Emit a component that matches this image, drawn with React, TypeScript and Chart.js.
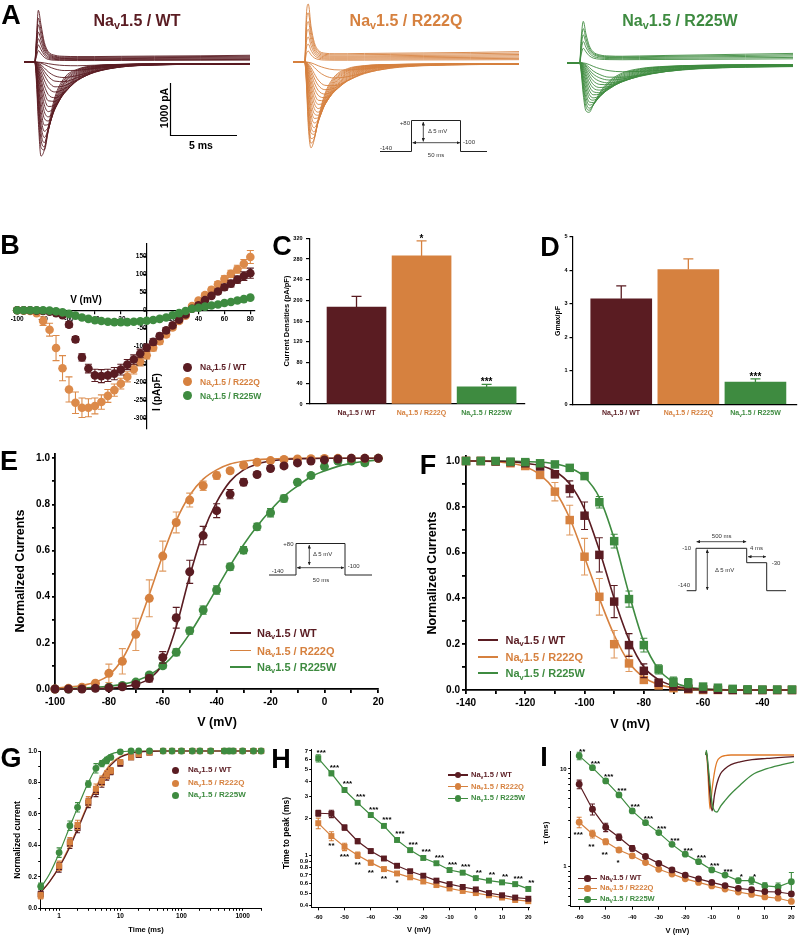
import React, { useEffect, useRef } from 'react';
import { Chart, registerables } from 'chart.js';

Chart.register(...registerables);

const FONT = "'Liberation Sans', Arial, Helvetica, sans-serif";
const WT = '#5a1c22';
const RQ = '#d6813f';
const RW = '#3e8b40';

// ---------------- Panel A : current traces (pA vs ms) ----------------
const A_T_WT = [-0.83, -0.02, 0.1, 0.25, 0.45, 0.7, 1.0, 1.5, 2.2, 3.2, 4.5, 6.5, 9, 12.5, 16.2];
const A_WT = [
  [0, 0, 450, 1000, 720, 380, 200, 130, 110, 105, 105, 110, 115, 120, 130],
  [0, 0, 380, 850, 620, 330, 175, 110, 95, 90, 90, 95, 100, 105, 112],
  [0, 0, 320, 720, 520, 280, 150, 95, 80, 75, 75, 80, 85, 90, 95],
  [0, 0, 260, 580, 420, 230, 125, 80, 68, 62, 62, 66, 70, 74, 78],
  [0, 0, 200, 450, 330, 180, 100, 65, 55, 50, 50, 52, 55, 58, 62],
  [0, 0, 150, 330, 240, 135, 75, 50, 42, 40, 40, 42, 44, 46, 50],
  [0, 0, 100, 220, 160, 90, 50, 35, 30, 28, 28, 30, 32, 34, 36],
  [0, 0, -350, -1150, -1820, -1700, -1250, -680, -310, -140, -70, -45, -35, -30, -28],
  [0, 0, -280, -1000, -1650, -1700, -1330, -740, -350, -155, -78, -48, -36, -31, -29],
  [0, 0, -220, -850, -1500, -1640, -1330, -790, -390, -170, -85, -50, -38, -32, -30],
  [0, 0, -180, -730, -1360, -1560, -1320, -830, -420, -190, -92, -52, -39, -33, -30],
  [0, 0, -150, -620, -1220, -1460, -1300, -860, -460, -210, -100, -55, -40, -34, -30],
  [0, 0, -120, -520, -1070, -1340, -1260, -890, -500, -230, -108, -58, -41, -35, -31],
  [0, 0, -100, -420, -920, -1220, -1210, -910, -530, -250, -115, -60, -42, -35, -32],
  [0, 0, -80, -340, -770, -1090, -1140, -910, -555, -270, -125, -62, -43, -35, -32],
  [0, 0, -60, -260, -620, -960, -1060, -900, -580, -290, -135, -65, -44, -36, -33],
  [0, 0, -45, -200, -510, -830, -960, -870, -600, -310, -148, -70, -46, -37, -33],
  [0, 0, -35, -160, -410, -700, -860, -830, -610, -330, -160, -75, -48, -38, -34],
  [0, 0, -28, -120, -330, -580, -750, -760, -600, -345, -175, -80, -50, -39, -34],
  [0, 0, -20, -85, -250, -460, -630, -690, -580, -360, -190, -85, -52, -40, -35],
  [0, 0, -15, -60, -180, -350, -500, -580, -520, -350, -195, -90, -53, -41, -35],
  [0, 0, -10, -40, -120, -250, -380, -480, -460, -340, -200, -95, -55, -42, -36],
  [0, 0, -7, -28, -85, -180, -280, -370, -380, -300, -190, -95, -56, -43, -37],
  [0, 0, -5, -18, -55, -115, -190, -270, -300, -260, -175, -95, -58, -44, -38],
  [0, 0, -2, -8, -22, -48, -85, -135, -165, -160, -125, -80, -55, -44, -38],
  [0, 0, 0, -3, -8, -18, -32, -52, -68, -72, -62, -48, -40, -36, -34],
];
const A_T_RQ = [-0.91, -0.02, 0.1, 0.25, 0.45, 0.7, 1.0, 1.5, 2.2, 3.2, 4.5, 6.5, 9, 12.5, 16.2];
const A_RQ = [
  [0, 0, 900, 1120, 700, 380, 230, 170, 160, 160, 165, 170, 175, 185, 200],
  [0, 0, 760, 950, 600, 330, 200, 148, 138, 138, 142, 146, 152, 160, 172],
  [0, 0, 620, 780, 500, 280, 170, 125, 115, 115, 118, 122, 128, 135, 145],
  [0, 0, 500, 630, 410, 230, 140, 102, 95, 95, 98, 101, 106, 112, 120],
  [0, 0, 380, 480, 320, 180, 110, 80, 75, 75, 78, 80, 84, 88, 95],
  [0, 0, 270, 345, 230, 130, 80, 60, 55, 55, 57, 59, 62, 65, 70],
  [0, 0, 160, 210, 140, 80, 50, 38, 35, 35, 36, 38, 40, 42, 45],
  [0, 0, -400, -1250, -1660, -1500, -1100, -620, -290, -130, -70, -48, -40, -35, -32],
  [0, 0, -350, -1120, -1570, -1480, -1130, -660, -320, -145, -75, -50, -41, -36, -33],
  [0, 0, -300, -1000, -1480, -1450, -1150, -700, -350, -160, -80, -52, -42, -36, -33],
  [0, 0, -250, -880, -1370, -1400, -1160, -740, -380, -175, -88, -55, -44, -37, -34],
  [0, 0, -200, -760, -1250, -1350, -1160, -770, -410, -190, -95, -58, -45, -38, -34],
  [0, 0, -165, -650, -1130, -1270, -1140, -800, -440, -210, -102, -60, -46, -38, -35],
  [0, 0, -130, -540, -1000, -1180, -1120, -820, -470, -225, -110, -62, -47, -39, -35],
  [0, 0, -105, -450, -880, -1090, -1080, -830, -495, -245, -120, -65, -48, -40, -36],
  [0, 0, -85, -370, -760, -1000, -1030, -830, -520, -265, -130, -68, -49, -40, -36],
  [0, 0, -65, -300, -650, -900, -970, -820, -540, -285, -140, -72, -51, -41, -37],
  [0, 0, -50, -240, -540, -800, -900, -810, -560, -305, -150, -75, -52, -42, -37],
  [0, 0, -38, -190, -450, -700, -820, -780, -570, -325, -162, -80, -54, -43, -38],
  [0, 0, -28, -140, -360, -600, -740, -750, -580, -345, -175, -85, -55, -43, -38],
  [0, 0, -20, -105, -285, -500, -645, -690, -570, -360, -190, -92, -58, -44, -39],
  [0, 0, -15, -75, -210, -400, -550, -620, -550, -370, -205, -98, -60, -45, -39],
  [0, 0, -10, -52, -155, -310, -450, -535, -505, -365, -215, -106, -63, -47, -40],
  [0, 0, -7, -35, -105, -225, -350, -450, -460, -360, -225, -115, -66, -48, -40],
  [0, 0, -3, -14, -45, -105, -180, -265, -310, -285, -210, -120, -72, -51, -42],
  [0, 0, 0, -5, -16, -40, -72, -115, -150, -155, -130, -90, -65, -50, -43],
];
const A_T_RW = [-0.98, -0.02, 0.1, 0.25, 0.45, 0.7, 1.0, 1.5, 2.2, 3.2, 4.5, 6.5, 9, 12.5, 16.1];
const A_RW = [
  [0, 0, 500, 800, 560, 330, 210, 150, 130, 125, 130, 140, 150, 165, 180],
  [0, 0, 410, 660, 470, 285, 185, 132, 115, 112, 115, 123, 131, 142, 155],
  [0, 0, 330, 540, 390, 240, 160, 115, 100, 98, 100, 106, 112, 120, 130],
  [0, 0, 250, 410, 300, 190, 125, 92, 80, 78, 80, 85, 89, 95, 102],
  [0, 0, 170, 280, 210, 135, 90, 68, 60, 58, 60, 63, 66, 70, 75],
  [0, 0, -200, -620, -930, -960, -820, -580, -360, -200, -115, -70, -50, -40, -36],
  [0, 0, -165, -535, -845, -920, -820, -610, -390, -222, -128, -75, -52, -41, -37],
  [0, 0, -130, -450, -760, -880, -820, -640, -420, -245, -140, -80, -55, -43, -38],
  [0, 0, -105, -380, -670, -820, -795, -650, -445, -268, -155, -88, -58, -45, -40],
  [0, 0, -80, -310, -580, -760, -770, -660, -470, -290, -170, -95, -62, -47, -41],
  [0, 0, -62, -250, -495, -685, -725, -650, -485, -310, -185, -102, -66, -50, -43],
  [0, 0, -45, -190, -410, -610, -680, -640, -500, -330, -200, -110, -70, -52, -45],
  [0, 0, -35, -150, -340, -530, -620, -610, -510, -345, -215, -120, -75, -55, -48],
  [0, 0, -25, -110, -270, -450, -560, -580, -500, -360, -230, -130, -80, -58, -50],
  [0, 0, -18, -84, -215, -375, -490, -530, -480, -365, -242, -140, -86, -62, -53],
  [0, 0, -12, -58, -160, -300, -420, -480, -460, -370, -255, -150, -92, -66, -56],
  [0, 0, -9, -42, -122, -240, -350, -420, -425, -360, -260, -160, -99, -70, -59],
  [0, 0, -6, -28, -85, -180, -280, -360, -390, -350, -265, -170, -106, -75, -62],
  [0, 0, -4, -20, -60, -135, -220, -295, -335, -315, -252, -170, -112, -80, -66],
  [0, 0, -2, -12, -38, -90, -160, -230, -280, -280, -240, -170, -118, -85, -70],
  [0, 0, 0, -4, -14, -36, -70, -115, -155, -175, -170, -140, -110, -88, -75],
];

// ---------------- Panel B : I-V (pA/pF) ----------------
const V_B = [-100, -95, -90, -85, -80, -75, -70, -65, -60, -55, -50, -45, -40, -35, -30, -25, -20, -15, -10, -5, 0, 5, 10, 15, 20, 25, 30, 35, 40, 45, 50, 55, 60, 65, 70, 75, 80];
const B_WT = [0, 0, 0, -1, -2, -4, -8, -14, -40, -81, -131, -162, -181, -183, -181, -176, -165, -151, -137, -120, -104, -88, -72, -56, -42, -26, -12, 4, 14, 28, 40, 52, 64, 74, 85, 95, 103];
const B_WT_E = [0, 0, 0, 0, 0, 0, 2, 4, 8, 8, 10, 12, 17, 18, 17, 17, 15, 14, 13, 12, 10, 9, 8, 7, 6, 5, 4, 4, 5, 5, 6, 7, 8, 9, 10, 12, 14];
const B_RQ = [0, -1, -2, -8, -30, -54, -105, -161, -220, -257, -271, -271, -266, -255, -238, -222, -204, -185, -164, -143, -125, -104, -86, -67, -48, -30, -15, 12, 27, 42, 57, 72, 87, 101, 114, 129, 148];
const B_RQ_E = [0, 0, 0, 2, 12, 18, 35, 35, 35, 30, 27, 25, 22, 20, 18, 17, 15, 14, 13, 12, 10, 9, 8, 7, 6, 5, 4, 4, 5, 6, 7, 8, 9, 10, 11, 12, 18];
const B_RW = [0, 0, 0, 0, 0, -1, -3, -6, -10, -15, -20, -24, -28, -30, -32, -33, -33, -33, -32, -31, -29, -27, -24, -20, -14, -8, -2, 4, 7, 10, 13, 16, 20, 23, 27, 31, 35];
const B_XTICKS = [-100, -80, -60, -40, -20, 0, 20, 40, 60, 80];
const B_YTICKS = [-300, -250, -200, -150, -100, -50, 0, 50, 100, 150];

// ---------------- Panels C, D : bars ----------------
const CD_POS = [1, 2, 3];
const CD_GROUPS = ['WT', 'R222Q', 'R225W'];
const C_VAL = [187, 286, 33];
const C_ERR = [21, 29, 5];
const C_STARS = ['', '*', '***'];
const C_YTICKS = [0, 40, 80, 120, 160, 200, 240, 280, 320];
const D_VAL = [3.15, 4.02, 0.66];
const D_ERR = [0.38, 0.32, 0.1];
const D_STARS = ['', '', '***'];
const D_YTICKS = [0, 1, 2, 3, 4, 5];

// ---------------- Panel E : activation ----------------
const V_E = [-100, -95, -90, -85, -80, -75, -70, -65, -60, -55, -50, -45, -40, -35, -30, -25, -20, -15, -10, -5, 0, 5, 10, 15, 20];
const E_WT = [0, 0, 0, 0.003, 0.005, 0.01, 0.02, 0.046, 0.137, 0.309, 0.508, 0.665, 0.773, 0.845, 0.896, 0.93, 0.956, 0.967, 0.98, 0.988, 0.993, 0.997, 1, 1, 1];
const E_WT_E = [0, 0, 0, 0, 0, 0.005, 0.01, 0.015, 0.025, 0.045, 0.05, 0.04, 0.03, 0.02, 0.015, 0.01, 0.01, 0.01, 0.008, 0.006, 0.005, 0.004, 0.003, 0.003, 0];
const E_RQ = [0, 0.003, 0.008, 0.025, 0.068, 0.12, 0.237, 0.393, 0.576, 0.722, 0.819, 0.881, 0.925, 0.946, 0.97, 0.983, 0.99, 0.995, 0.997, 0.998, 0.999, 1, 1, 1, 1];
const E_RQ_E = [0, 0.003, 0.005, 0.01, 0.04, 0.055, 0.07, 0.08, 0.065, 0.045, 0.03, 0.02, 0.015, 0.01, 0.008, 0.006, 0.005, 0.004, 0.003, 0.003, 0.002, 0.002, 0, 0, 0];
const E_RW = [0, 0, 0.002, 0.005, 0.008, 0.015, 0.03, 0.061, 0.101, 0.159, 0.253, 0.342, 0.429, 0.53, 0.602, 0.703, 0.764, 0.826, 0.896, 0.925, 0.964, 0.988, 0.988, 0.981, 1];
const E_RW_E = [0, 0, 0, 0, 0.004, 0.006, 0.008, 0.01, 0.012, 0.015, 0.015, 0.018, 0.018, 0.015, 0.015, 0.015, 0.018, 0.015, 0.012, 0.012, 0.012, 0.01, 0.01, 0.012, 0.01];
const E_WT_FIT = [0, 0.0005, 0.001, 0.002, 0.004, 0.009, 0.02, 0.045, 0.11, 0.27, 0.49, 0.68, 0.81, 0.9, 0.95, 0.975, 0.988, 0.995, 0.998, 0.999, 1, 1, 1, 1, 1];
const E_RQ_FIT = [0.004, 0.008, 0.015, 0.03, 0.06, 0.13, 0.25, 0.41, 0.58, 0.73, 0.84, 0.91, 0.95, 0.975, 0.987, 0.994, 0.997, 0.999, 1, 1, 1, 1, 1, 1, 1];
const E_RW_FIT = [0, 0.002, 0.004, 0.007, 0.012, 0.02, 0.035, 0.06, 0.1, 0.16, 0.24, 0.335, 0.435, 0.535, 0.625, 0.705, 0.775, 0.835, 0.88, 0.92, 0.945, 0.965, 0.978, 0.987, 0.993];
const E_XTICKS = [-100, -90, -80, -70, -60, -50, -40, -30, -20, -10, 0, 10, 20];
const NORM_TICKS = [0, 0.1, 0.2, 0.3, 0.4, 0.5, 0.6, 0.7, 0.8, 0.9, 1.0];

// ---------------- Panel F : inactivation ----------------
const V_F = [-140, -135, -130, -125, -120, -115, -110, -105, -100, -95, -90, -85, -80, -75, -70, -65, -60, -55, -50, -45, -40, -35, -30];
const F_WT = [1, 1, 0.998, 0.995, 0.99, 0.976, 0.942, 0.878, 0.761, 0.59, 0.386, 0.196, 0.084, 0.032, 0.015, 0.006, 0.003, 0.001, 0, 0, 0, 0, 0];
const F_WT_E = [0, 0, 0, 0.003, 0.005, 0.01, 0.015, 0.035, 0.06, 0.075, 0.07, 0.05, 0.03, 0.015, 0.008, 0.005, 0, 0, 0, 0, 0, 0, 0];
const F_RQ = [1, 1, 0.998, 0.99, 0.978, 0.939, 0.866, 0.742, 0.582, 0.407, 0.2, 0.116, 0.044, 0.02, 0.008, 0.003, 0, 0, 0, 0, 0, 0, 0];
const F_RQ_E = [0, 0, 0, 0.005, 0.01, 0.015, 0.04, 0.065, 0.08, 0.08, 0.06, 0.035, 0.015, 0.008, 0.005, 0.003, 0, 0, 0, 0, 0, 0, 0];
const F_RW = [1, 1, 1, 0.997, 0.995, 0.99, 0.985, 0.97, 0.934, 0.82, 0.65, 0.397, 0.196, 0.09, 0.036, 0.03, 0.015, 0.01, 0.005, 0.003, 0.002, 0.002, 0.002];
const F_RW_E = [0, 0, 0, 0, 0, 0, 0.005, 0.008, 0.01, 0.025, 0.03, 0.035, 0.03, 0.02, 0.02, 0.02, 0.01, 0.008, 0, 0, 0, 0, 0];
const F_WT_FIT = [1, 1, 0.999, 0.997, 0.99, 0.98, 0.955, 0.9, 0.79, 0.61, 0.4, 0.22, 0.1, 0.045, 0.018, 0.007, 0.003, 0.001, 0, 0, 0, 0, 0];
const F_RQ_FIT = [1, 0.999, 0.997, 0.99, 0.975, 0.94, 0.87, 0.75, 0.58, 0.4, 0.24, 0.12, 0.055, 0.024, 0.01, 0.004, 0.001, 0, 0, 0, 0, 0, 0];
const F_RW_FIT = [1, 1, 1, 0.999, 0.998, 0.995, 0.988, 0.97, 0.93, 0.84, 0.66, 0.42, 0.21, 0.09, 0.035, 0.013, 0.005, 0.002, 0.001, 0, 0, 0, 0];
const F_XTICKS = [-140, -130, -120, -110, -100, -90, -80, -70, -60, -50, -40, -30];

// ---------------- Panel G : recovery ----------------
const T_G = [0.5, 1, 1.5, 2, 3, 4, 5, 6, 7, 10, 15, 20, 30, 50, 70, 100, 150, 200, 300, 500, 600, 700, 1000, 1500, 2000];
const G_WT = [0.09, 0.26, 0.41, 0.51, 0.67, 0.74, 0.8, 0.84, 0.87, 0.92, 0.96, 0.975, 0.99, 1, 1, 1, 1, 1, 1, 1, 1, 1, 1, 1, 1];
const G_WT_E = [0.02, 0.03, 0.03, 0.03, 0.03, 0.03, 0.03, 0.025, 0.02, 0.015, 0.01, 0.008, 0.005, 0, 0, 0, 0, 0, 0, 0, 0, 0, 0, 0, 0];
const G_RQ = [0.08, 0.27, 0.42, 0.53, 0.68, 0.76, 0.81, 0.85, 0.875, 0.93, 0.96, 0.98, 0.99, 1, 1, 1, 1, 1, 1, 1, 1, 1, 1, 1, 1];
const G_RQ_E = [0.02, 0.03, 0.03, 0.03, 0.03, 0.03, 0.03, 0.025, 0.02, 0.015, 0.01, 0.008, 0.005, 0, 0, 0, 0, 0, 0, 0, 0, 0, 0, 0, 0];
const G_RW = [0.14, 0.354, 0.525, 0.642, 0.79, 0.89, 0.92, 0.94, 0.96, 0.995, 1, 1, 1, 1, 1, 1, 1, 1, 1, 1, 1, 1, 1, 1, 1];
const G_RW_E = [0.02, 0.03, 0.03, 0.03, 0.02, 0.03, 0.02, 0.02, 0.015, 0.005, 0, 0, 0, 0, 0, 0, 0, 0, 0, 0, 0, 0, 0, 0, 0];
const T_GFIT = [0.5, 0.7, 1, 1.5, 2, 3, 4, 5, 7, 10, 15, 20, 30, 50, 100, 2000];
const G_WT_FIT = [0.1, 0.17, 0.26, 0.39, 0.5, 0.66, 0.76, 0.83, 0.91, 0.96, 0.985, 0.993, 0.998, 1, 1, 1];
const G_RQ_FIT = [0.1, 0.17, 0.265, 0.4, 0.51, 0.67, 0.77, 0.84, 0.92, 0.965, 0.988, 0.995, 0.999, 1, 1, 1];
const G_RW_FIT = [0.13, 0.22, 0.35, 0.52, 0.64, 0.8, 0.89, 0.94, 0.98, 0.995, 0.999, 1, 1, 1, 1, 1];
const G_XTICKS = [0.5, 0.6, 0.7, 0.8, 0.9, 1, 2, 3, 4, 5, 6, 7, 8, 9, 10, 20, 30, 40, 50, 60, 70, 80, 90, 100, 200, 300, 400, 500, 600, 700, 800, 900, 1000, 2000];
const G_XLABELS = [1, 10, 100, 1000];

// ---------------- Panel H : time to peak ----------------
const V_H = [-60, -55, -50, -45, -40, -35, -30, -25, -20, -15, -10, -5, 0, 5, 10, 15, 20];
const H_WT = [2.2, 2.18, 1.69, 1.31, 1.09, 0.95, 0.83, 0.75, 0.69, 0.63, 0.59, 0.56, 0.535, 0.5, 0.48, 0.46, 0.45];
const H_WT_E = [0.12, 0.15, 0.08, 0.06, 0.04, 0.03, 0.02, 0.02, 0.02, 0.02, 0.02, 0.015, 0.015, 0.015, 0.015, 0.015, 0.015];
const H_RQ = [1.83, 1.44, 1.18, 1.01, 0.88, 0.78, 0.72, 0.67, 0.62, 0.58, 0.545, 0.52, 0.5, 0.48, 0.46, 0.44, 0.43];
const H_RQ_E = [0.18, 0.12, 0.08, 0.06, 0.04, 0.03, 0.02, 0.02, 0.02, 0.02, 0.015, 0.015, 0.015, 0.015, 0.015, 0.015, 0.015];
const H_RW = [6.1, 4.62, 3.39, 2.67, 2.13, 1.74, 1.34, 1.11, 0.96, 0.87, 0.767, 0.73, 0.66, 0.63, 0.61, 0.59, 0.54];
const H_RW_E = [0.4, 0.2, 0.12, 0.08, 0.06, 0.05, 0.04, 0.03, 0.03, 0.02, 0.02, 0.02, 0.02, 0.02, 0.02, 0.02, 0.02];
const H_RW_STARS = ['***', '***', '***', '***', '***', '***', '***', '***', '***', '***', '***', '***', '**', '**', '**', '***', '**'];
const H_RQ_STARS = ['', '**', '***', '**', '**', '**', '*', '', '', '', '', '', '', '', '', '', ''];
const HI_XTICKS = [-60, -50, -40, -30, -20, -10, 0, 10, 20];
const H_YTICKS = [0.4, 0.5, 0.6, 0.7, 0.8, 0.9, 1, 2, 3, 4, 5, 6, 7];

// ---------------- Panel I : inactivation tau ----------------
const V_I = [-60, -55, -50, -45, -40, -35, -30, -25, -20, -15, -10, -5, 0, 5, 10, 15, 20];
const I_WT = [6.97, 3.87, 2.53, 2.0, 1.54, 1.27, 1.08, 0.925, 0.82, 0.75, 0.69, 0.64, 0.6, 0.58, 0.555, 0.55, 0.525];
const I_WT_E = [0.7, 0.5, 0.25, 0.15, 0.1, 0.06, 0.05, 0.04, 0.03, 0.03, 0.02, 0.02, 0.02, 0.02, 0.02, 0.02, 0.02];
const I_RQ = [2.85, 2.16, 1.8, 1.48, 1.29, 1.1, 0.94, 0.84, 0.75, 0.69, 0.635, 0.59, 0.55, 0.52, 0.49, 0.475, 0.44];
const I_RQ_E = [0.35, 0.2, 0.12, 0.08, 0.06, 0.04, 0.03, 0.03, 0.02, 0.02, 0.02, 0.02, 0.02, 0.02, 0.02, 0.02, 0.02];
const I_RW = [13.6, 10.3, 7.53, 5.42, 3.72, 2.82, 2.23, 1.69, 1.34, 1.125, 0.925, 0.82, 0.72, 0.72, 0.635, 0.62, 0.7];
const I_RW_E = [1.2, 0.5, 0.35, 0.25, 0.18, 0.1, 0.08, 0.06, 0.05, 0.04, 0.03, 0.03, 0.04, 0.06, 0.05, 0.06, 0.17];
const I_RW_STARS = ['**', '***', '***', '***', '***', '***', '***', '***', '***', '***', '***', '***', '*', '*', '', '', ''];
const I_RQ_STARS = ['***', '**', '**', '*', '', '', '', '', '', '', '', '', '', '', '', '', ''];
const I_YTICKS = [0.4, 0.5, 0.6, 0.7, 0.8, 0.9, 1, 2, 3, 4, 5, 6, 7, 8, 9, 10];
// inset: normalized current traces
const IN_T = [0.6, 0.8, 1.3, 2.0, 2.7, 3.5, 4.3, 5.5, 7, 9, 12, 16, 21, 26, 30];
const IN_RQ = [0, 0.05, -0.3, -0.95, -0.6, -0.3, -0.12, -0.04, -0.01, 0, 0, 0, 0, 0, 0];
const IN_WT = [0, 0.05, -0.2, -0.7, -0.98, -0.7, -0.5, -0.33, -0.24, -0.17, -0.12, -0.08, -0.06, -0.04, -0.03];
const IN_RW = [0, 0.08, -0.15, -0.5, -0.85, -0.98, -1.0, -0.9, -0.8, -0.68, -0.53, -0.35, -0.24, -0.17, -0.12];

// ---------------- helpers ----------------
const P = (xs: number[], ys: number[]) => xs.map((x, i) => ({ x, y: ys[i] }));

const errPlugin = {
  id: 'errbars',
  beforeDatasetDraw(chart: any, args: any) {
    const ds = chart.data.datasets[args.index];
    if (!ds.errors) return;
    const ctx = chart.ctx;
    const xs = chart.scales.x;
    const ys = chart.scales.y;
    ctx.save();
    ctx.lineWidth = ds.errWidth ?? 1.1;
    ds.data.forEach((p: any, i: number) => {
      const e = ds.errors[i];
      if (!e) return;
      ctx.strokeStyle = ds.errColors ? ds.errColors[i] : ds.errColor ?? ds.borderColor;
      const x = xs.getPixelForValue(p.x);
      const yTop = ys.getPixelForValue(p.y + e);
      const yBot = ds.errUp ? ys.getPixelForValue(p.y) : ys.getPixelForValue(p.y - e);
      const c = ds.capW ?? 3;
      ctx.beginPath();
      ctx.moveTo(x, yBot);
      ctx.lineTo(x, yTop);
      ctx.moveTo(x - c, yTop);
      ctx.lineTo(x + c, yTop);
      if (!ds.errUp) {
        ctx.moveTo(x - c, yBot);
        ctx.lineTo(x + c, yBot);
      }
      ctx.stroke();
    });
    ctx.restore();
  },
};

const starPlugin = {
  id: 'stars',
  afterDatasetsDraw(chart: any) {
    const ctx = chart.ctx;
    const xs = chart.scales.x;
    const ys = chart.scales.y;
    chart.data.datasets.forEach((ds: any) => {
      if (!ds.stars) return;
      ctx.save();
      ctx.fillStyle = '#000';
      ctx.font = `bold ${ds.starSize ?? 8}px ${FONT}`;
      ctx.textAlign = 'center';
      ctx.textBaseline = 'alphabetic';
      ds.data.forEach((p: any, i: number) => {
        const s = ds.stars[i];
        if (!s) return;
        const v = ds.starOnErr ? p.y + (ds.errors?.[i] ?? 0) : p.y;
        ctx.fillText(s, xs.getPixelForValue(p.x) + (ds.starDx ?? 0), ys.getPixelForValue(v) + (ds.starDy ?? -4));
      });
      ctx.restore();
    });
  },
};

function axis(o: any) {
  const lw = o.lw ?? 1;
  return {
    type: o.type ?? 'linear',
    min: o.min,
    max: o.max,
    position: o.pos,
    offset: false,
    bounds: 'data',
    afterBuildTicks: (s: any) => {
      s.ticks = (o.ticks ?? []).map((v: number) => ({ value: v }));
    },
    afterFit: (s: any) => {
      if (o.size !== undefined) {
        if (s.isHorizontal()) s.height = o.size;
        else s.width = o.size;
      }
      s.paddingLeft = 0;
      s.paddingRight = 0;
      s.paddingTop = 0;
      s.paddingBottom = 0;
    },
    grid: {
      display: true,
      drawOnChartArea: false,
      drawTicks: o.drawTicks ?? true,
      tickLength: o.tl ?? 4,
      color: '#000',
      lineWidth: lw,
      offset: false,
    },
    border: { display: true, color: '#000', width: lw },
    ticks: {
      display: o.show ?? true,
      autoSkip: false,
      maxRotation: 0,
      minRotation: 0,
      padding: o.pad ?? 2,
      color: '#000',
      font: { family: FONT, size: o.font ?? 7, weight: 'bold' },
      callback: (v: any) => (o.label ? o.label(Number(v)) : String(v)),
    },
  };
}

function opts(x: any, y: any, pad: any) {
  return {
    responsive: false,
    animation: false,
    devicePixelRatio: 1,
    events: [],
    layout: { padding: pad },
    plugins: { legend: { display: false }, tooltip: { enabled: false }, title: { display: false } },
    scales: { x, y },
  };
}

function pts(xs: number[], ys: number[], color: string, r: number, style = 'circle', extra: any = {}) {
  return {
    type: 'line',
    data: P(xs, ys),
    showLine: false,
    pointRadius: r,
    pointHoverRadius: r,
    pointStyle: style,
    pointBackgroundColor: color,
    pointBorderColor: color,
    pointBorderWidth: 0,
    borderColor: color,
    backgroundColor: color,
    clip: false,
    order: 1,
    ...extra,
  };
}

function curve(xs: number[], ys: number[], color: string, w = 1.5, extra: any = {}) {
  return {
    type: 'line',
    data: P(xs, ys),
    showLine: true,
    pointRadius: 0,
    borderColor: color,
    borderWidth: w,
    cubicInterpolationMode: 'monotone',
    fill: false,
    clip: false,
    order: 5,
    ...extra,
  };
}

function linePts(xs: number[], ys: number[], color: string, r: number, style: string, extra: any = {}) {
  return {
    type: 'line',
    data: P(xs, ys),
    showLine: true,
    tension: 0,
    borderColor: color,
    borderWidth: 1.2,
    pointRadius: r,
    pointStyle: style,
    pointBackgroundColor: color,
    pointBorderColor: color,
    pointBorderWidth: 0,
    backgroundColor: color,
    fill: false,
    clip: false,
    ...extra,
  };
}

function traceCfg(t: number[], traces: number[][], color: string, ymin: number, ymax: number) {
  return {
    type: 'line',
    data: {
      datasets: traces.map((tr) => ({
        data: P(t, tr),
        borderColor: color,
        borderWidth: 0.9,
        pointRadius: 0,
        cubicInterpolationMode: 'monotone',
        fill: false,
        clip: false,
      })),
    },
    options: opts(
      { type: 'linear', display: false, min: t[0], max: t[t.length - 1] },
      { type: 'linear', display: false, min: ymin, max: ymax },
      0
    ),
  };
}

const normLabel = (v: number) => (Math.round(v * 10) % 2 === 0 ? v.toFixed(1) : '');
const every20 = (v: number) => (v % 20 === 0 ? String(v) : '');

// ---------------- chart configs ----------------
const cfgB = () => ({
  type: 'line',
  data: {
    datasets: [
      pts(V_B, B_RW, RW, 4.3, 'circle', { order: 0 }),
      pts(V_B, B_WT, WT, 4.3, 'circle', { order: 1, errors: B_WT_E, capW: 3.5 }),
      pts(V_B, B_RQ, '#dc8a4a', 4.3, 'circle', { order: 2, errors: B_RQ_E, capW: 3.5 }),
    ],
  },
  options: opts(
    axis({ min: -103, max: 83.6, ticks: B_XTICKS, pos: { y: 0 }, font: 6.5, tl: 3, pad: 2, lw: 1.2, label: (v: number) => (v === 0 ? '' : String(v)) }),
    axis({ min: -328, max: 186, ticks: B_YTICKS, pos: { x: 0 }, font: 6.5, tl: 3, pad: 1, lw: 1.2 }),
    { left: 13.3, right: 15, top: 8.3, bottom: 6.7 }
  ),
  plugins: [errPlugin],
});

const barCfg = (vals: number[], errs: number[], stars: string[], xmin: number, xmax: number, thick: number, ymax: number, yticks: number[], ysize: number, pad: any, xsize: number, tl: number, tpad: number) => () => ({
  type: 'bar',
  data: {
    datasets: [
      {
        data: P(CD_POS, vals),
        backgroundColor: [WT, RQ, RW],
        borderWidth: 0,
        barThickness: thick,
        errors: errs,
        errUp: true,
        errColors: [WT, RQ, RW],
        errWidth: 1.3,
        capW: 5,
        stars,
        starOnErr: true,
        starDy: 1,
        starSize: 10,
      },
    ],
  },
  options: opts(
    axis({ min: xmin, max: xmax, ticks: CD_POS, size: xsize, show: false, drawTicks: false, lw: 1.2 }),
    axis({ min: 0, max: ymax, ticks: yticks, size: ysize, font: 5.5, tl, pad: tpad, lw: 1.2 }),
    pad
  ),
  plugins: [errPlugin, starPlugin],
});

const cfgC = barCfg(C_VAL, C_ERR, C_STARS, 0.285, 3.59, 59, 320, C_YTICKS, 40, { left: 0, right: 10, top: 13.3, bottom: 0 }, 16, 4, 3.5);
const cfgD = barCfg(D_VAL, D_ERR, D_STARS, 0.281, 3.615, 61, 5, D_YTICKS, 38, { left: 0, right: 1.3, top: 11.7, bottom: 0 }, 15.7, 3.5, 2);

const cfgE = () => ({
  type: 'line',
  data: {
    datasets: [
      pts(V_E, E_WT, WT, 4.5, 'circle', { errors: E_WT_E, capW: 3.5, order: 1 }),
      pts(V_E, E_RQ, RQ, 4.5, 'circle', { errors: E_RQ_E, capW: 3.5, errColor: '#e09a60', order: 2 }),
      pts(V_E, E_RW, RW, 4.5, 'circle', { errors: E_RW_E, capW: 3.5, order: 3 }),
      curve(V_E, E_WT_FIT, WT, 1.6),
      curve(V_E, E_RQ_FIT, RQ, 1.6),
      curve(V_E, E_RW_FIT, RW, 1.6),
    ],
  },
  options: opts(
    axis({ min: -100, max: 20, ticks: E_XTICKS, size: 26, font: 10, tl: 4, pad: 3, lw: 1.8, label: every20 }),
    axis({ min: 0, max: 1.02, ticks: NORM_TICKS, size: 55, font: 10, tl: 3, pad: 2, lw: 1.8, label: normLabel }),
    { left: 0, right: 16.7, top: 13.7, bottom: 0 }
  ),
  plugins: [errPlugin],
});

const cfgF = () => ({
  type: 'line',
  data: {
    datasets: [
      pts(V_F, F_RW, RW, 6, 'rect', { errors: F_RW_E, capW: 3.5, order: 1 }),
      pts(V_F, F_WT, WT, 6, 'rect', { errors: F_WT_E, capW: 3.5, order: 2 }),
      pts(V_F, F_RQ, RQ, 6, 'rect', { errors: F_RQ_E, capW: 3.5, errColor: '#e09a60', order: 3 }),
      curve(V_F, F_WT_FIT, WT, 1.6),
      curve(V_F, F_RQ_FIT, RQ, 1.6),
      curve(V_F, F_RW_FIT, RW, 1.6),
    ],
  },
  options: opts(
    axis({ min: -140, max: -30, ticks: F_XTICKS, size: 25, font: 10, tl: 4, pad: 3, lw: 1.8, label: every20 }),
    axis({ min: 0, max: 1.02, ticks: NORM_TICKS, size: 66, font: 10, tl: 4, pad: 2, lw: 1.8, label: normLabel }),
    { left: 0, right: 3.6, top: 16.4, bottom: 0 }
  ),
  plugins: [errPlugin],
});

const cfgG = () => ({
  type: 'line',
  data: {
    datasets: [
      pts(T_G, G_RW, RW, 3.4, 'circle', { errors: G_RW_E, capW: 2.5, order: 1 }),
      pts(T_G, G_RQ, RQ, 4.3, 'rect', { errors: G_RQ_E, capW: 2.5, order: 2 }),
      pts(T_G, G_WT, WT, 4.3, 'rect', { errors: G_WT_E, capW: 2.5, order: 3 }),
      curve(T_GFIT, G_WT_FIT, WT, 1.2),
      curve(T_GFIT, G_RQ_FIT, RQ, 1.2),
      curve(T_GFIT, G_RW_FIT, RW, 1.2),
    ],
  },
  options: opts(
    axis({ type: 'logarithmic', min: 0.5, max: 2000, ticks: G_XTICKS, size: 27.7, font: 6.5, tl: 2.5, pad: 2, lw: 1, label: (v: number) => (G_XLABELS.includes(v) ? String(v) : '') }),
    axis({ min: 0, max: 1, ticks: NORM_TICKS, size: 40.7, font: 6.5, tl: 2.5, pad: 1, lw: 1, label: normLabel }),
    { left: 0, right: 8.9, top: 11, bottom: 0 }
  ),
  plugins: [errPlugin],
});

const cfgH = () => ({
  type: 'line',
  data: {
    datasets: [
      linePts(V_H, H_WT, WT, 4.2, 'rect', { errors: H_WT_E, capW: 2.5, order: 1 }),
      linePts(V_H, H_RQ, RQ, 4.2, 'rect', { errors: H_RQ_E, capW: 2.5, order: 2, stars: H_RQ_STARS, starDy: 12, starSize: 8 }),
      linePts(V_H, H_RW, RW, 4.2, 'rect', { errors: H_RW_E, capW: 2.5, order: 3, stars: H_RW_STARS, starDy: -3.5, starDx: 3, starSize: 8 }),
    ],
  },
  options: opts(
    axis({ min: -62.5, max: 20.6, ticks: HI_XTICKS, size: 28.7, font: 6, tl: 3, pad: 3, lw: 1 }),
    axis({ type: 'logarithmic', min: 0.384, max: 7.2, ticks: H_YTICKS, size: 46.7, font: 6, tl: 2.5, pad: 1, lw: 1, label: (v: number) => String(v) }),
    { left: 0, right: 5.1, top: 9.4, bottom: 0 }
  ),
  plugins: [errPlugin, starPlugin],
});

const cfgI = () => ({
  type: 'line',
  data: {
    datasets: [
      linePts(V_I, I_WT, WT, 3.4, 'circle', { errors: I_WT_E, capW: 2.5, order: 1 }),
      linePts(V_I, I_RQ, RQ, 3.4, 'circle', { errors: I_RQ_E, capW: 2.5, order: 2, stars: I_RQ_STARS, starDy: 15, starDx: -1, starSize: 8 }),
      linePts(V_I, I_RW, RW, 3.4, 'circle', { errors: I_RW_E, capW: 2.5, order: 3, stars: I_RW_STARS, starDy: -1.5, starDx: 3, starSize: 8 }),
    ],
  },
  options: opts(
    axis({ min: -63.2, max: 21, ticks: HI_XTICKS, size: 29.3, font: 6, tl: 3, pad: 4, lw: 1 }),
    axis({ type: 'logarithmic', min: 0.389, max: 15, ticks: I_YTICKS, size: 40.7, font: 6, tl: 2.5, pad: 1.5, lw: 1, label: (v: number) => (v === 1 || v === 10 ? String(v) : '') }),
    { left: 0, right: 2.6, top: 11.7, bottom: 0 }
  ),
  plugins: [errPlugin, starPlugin],
});

const cfgInset = () => ({
  type: 'line',
  data: {
    datasets: [
      curve(IN_T, IN_RW, RW, 1.3),
      curve(IN_T, IN_WT, WT, 1.3),
      curve(IN_T, IN_RQ, '#e07a28', 1.3),
    ],
  },
  options: opts(
    { type: 'linear', display: false, min: 0, max: 31 },
    { type: 'linear', display: false, min: -1.07, max: 0.123 },
    0
  ),
});

// ---------------- components ----------------
function ChartCanvas({ x, y, w, h, make }: { x: number; y: number; w: number; h: number; make: () => any }) {
  const ref = useRef<HTMLCanvasElement>(null);
  useEffect(() => {
    if (!ref.current) return;
    const chart = new Chart(ref.current, make());
    return () => chart.destroy();
  }, []);
  return <canvas ref={ref} width={w} height={h} style={{ position: 'absolute', left: x, top: y, width: w, height: h }} />;
}

function T({ x, y, s = 8, c = '#000', b = true, a = 'c', r = false, children }: any) {
  const tx = a === 'l' ? '0' : a === 'r' ? '-100%' : '-50%';
  return (
    <div
      style={{
        position: 'absolute',
        left: x,
        top: y,
        transform: `translate(${tx},-50%)${r ? ' rotate(-90deg)' : ''}`,
        fontSize: s,
        fontWeight: b ? 'bold' : 'normal',
        color: c,
        whiteSpace: 'nowrap',
        lineHeight: 1,
        fontFamily: FONT,
      }}
    >
      {children}
    </div>
  );
}

const Nav = ({ m, V = false }: { m: string; V?: boolean }) => (
  <>
    Na<span style={{ fontSize: '0.68em', position: 'relative', top: '0.32em' }}>{V ? 'V' : 'v'}</span>1.5 / {m}
  </>
);

const Dot = ({ x, y, r, c, sq = false }: any) => (
  <div style={{ position: 'absolute', left: x - r, top: y - r, width: 2 * r, height: 2 * r, borderRadius: sq ? 0 : '50%', background: c }} />
);
const Ln = ({ x1, x2, y, c, w = 1.5 }: any) => (
  <div style={{ position: 'absolute', left: x1, top: y - w / 2, width: x2 - x1, height: w, background: c }} />
);

const COLORS = [WT, RQ, RW];

export default function App() {
  const ps = { fontFamily: FONT, fontSize: 6, fill: '#333' } as any;
  return (
    <div style={{ position: 'absolute', left: 0, top: 0, width: 798, height: 936, background: '#fff', overflow: 'hidden', fontFamily: FONT }}>
      {/* Panel A traces */}
      <ChartCanvas x={24} y={0} w={226} h={165} make={() => traceCfg(A_T_WT, A_WT, WT, -1992, 1199)} />
      <ChartCanvas x={293} y={0} w={226} h={165} make={() => traceCfg(A_T_RQ, A_RQ, RQ, -1992, 1199)} />
      <ChartCanvas x={567} y={0} w={226} h={165} make={() => traceCfg(A_T_RW, A_RW, RW, -1979, 1213)} />

      <ChartCanvas x={0} y={235} w={270} h={200} make={cfgB} />
      <ChartCanvas x={270} y={225} w={265} h={195} make={cfgC} />
      <ChartCanvas x={535} y={225} w={263} h={195} make={cfgD} />
      <ChartCanvas x={0} y={440} w={395} h={275} make={cfgE} />
      <ChartCanvas x={400} y={440} w={398} h={275} make={cfgF} />
      <ChartCanvas x={0} y={740} w={270} h={196} make={cfgG} />
      <ChartCanvas x={265} y={740} w={270} h={196} make={cfgH} />
      <ChartCanvas x={530} y={740} w={268} h={196} make={cfgI} />
      <ChartCanvas x={704} y={748} w={93} h={68} make={cfgInset} />

      <svg width={798} height={936} style={{ position: 'absolute', left: 0, top: 0, pointerEvents: 'none' }}>
        <defs>
          <marker id="ah" viewBox="0 0 4 4" refX="4" refY="2" markerWidth="3.5" markerHeight="3.5" markerUnits="userSpaceOnUse" orient="auto-start-reverse">
            <path d="M0,0 L4,2 L0,4 z" fill="#222" />
          </marker>
        </defs>
        {/* scale bar */}
        <path d="M170.5 83 V135.5 H237" fill="none" stroke="#000" strokeWidth={1.2} />
        {/* A protocol */}
        <path d="M380 151.5 H411.5 V120.5 H460.5 V151.5 H487" fill="none" stroke="#222" strokeWidth={1} />
        <line x1={423.3} y1={122} x2={423.3} y2={141.5} stroke="#222" strokeWidth={0.8} markerStart="url(#ah)" markerEnd="url(#ah)" />
        <line x1={412.5} y1={142.7} x2={460} y2={142.7} stroke="#222" strokeWidth={0.8} markerStart="url(#ah)" markerEnd="url(#ah)" />
        <text x={410} y={124.5} textAnchor="end" {...ps}>+80</text>
        <text x={380} y={150} {...ps}>-140</text>
        <text x={428} y={132.5} {...ps}>Δ 5 mV</text>
        <text x={463} y={143.5} {...ps}>-100</text>
        <text x={436} y={157} textAnchor="middle" {...ps}>50 ms</text>
        {/* E protocol */}
        <path d="M269 575 H296 V543.5 H345 V575 H372" fill="none" stroke="#222" strokeWidth={1} />
        <line x1={309.3} y1={545} x2={309.3} y2={565} stroke="#222" strokeWidth={0.8} markerStart="url(#ah)" markerEnd="url(#ah)" />
        <line x1={297} y1={567.7} x2={344} y2={567.7} stroke="#222" strokeWidth={0.8} markerStart="url(#ah)" markerEnd="url(#ah)" />
        <text x={293.5} y={546} textAnchor="end" {...ps}>+80</text>
        <text x={271.7} y={573} {...ps}>-140</text>
        <text x={347.7} y={567.5} {...ps}>-100</text>
        <text x={313} y={556} {...ps}>Δ 5 mV</text>
        <text x={321} y={581.5} textAnchor="middle" {...ps}>50 ms</text>
        {/* F protocol */}
        <path d="M686.7 590.7 H696 V548.3 H746.7 V562.7 H766.7 V590.7 H786" fill="none" stroke="#222" strokeWidth={1} />
        <line x1={696.5} y1={541.7} x2={746.2} y2={541.7} stroke="#222" strokeWidth={0.8} markerStart="url(#ah)" markerEnd="url(#ah)" />
        <line x1={748} y1={556.7} x2={766} y2={556.7} stroke="#222" strokeWidth={0.8} markerStart="url(#ah)" markerEnd="url(#ah)" />
        <line x1={707.3} y1={549.5} x2={707.3} y2={590} stroke="#222" strokeWidth={0.8} markerStart="url(#ah)" markerEnd="url(#ah)" />
        <text x={721.7} y={538} textAnchor="middle" {...ps}>500 ms</text>
        <text x={691} y={550.3} textAnchor="end" {...ps}>-10</text>
        <text x={750} y={550.3} {...ps}>4 ms</text>
        <text x={771.7} y={564.8} {...ps}>-30</text>
        <text x={690} y={587} textAnchor="end" {...ps}>-140</text>
        <text x={715} y={572} {...ps}>Δ 5 mV</text>
      </svg>

      {/* panel letters */}
      <T x={11} y={15} s={27}>A</T>
      <T x={10} y={245} s={27}>B</T>
      <T x={282} y={246} s={27}>C</T>
      <T x={550} y={247} s={27}>D</T>
      <T x={9} y={461} s={27}>E</T>
      <T x={428} y={465} s={27}>F</T>
      <T x={11} y={758} s={27}>G</T>
      <T x={281} y={759} s={27}>H</T>
      <T x={544} y={757} s={27}>I</T>

      {/* A titles & scale */}
      <T x={137} y={21} s={16} c={WT}><Nav m="WT" /></T>
      <T x={406} y={21} s={16} c={RQ}><Nav m="R222Q" /></T>
      <T x={680} y={21} s={16} c={RW}><Nav m="R225W" /></T>
      <T x={163.5} y={108} s={10.5} r>1000 pA</T>
      <T x={201} y={145} s={10.5}>5 ms</T>

      {/* B */}
      <T x={86} y={300} s={10}>V (mV)</T>
      <T x={157} y={392} s={10} r>I (pApF)</T>
      {COLORS.map((c, i) => (
        <React.Fragment key={'bl' + i}>
          <Dot x={187} y={[367, 381.7, 395.7][i]} r={4.5} c={c} />
          <T x={200} y={[367, 381.7, 395.7][i]} s={8.5} c={c} a="l"><Nav m={CD_GROUPS[i]} /></T>
        </React.Fragment>
      ))}

      {/* C, D */}
      <T x={287} y={321} s={7.5} r>Current Densities (pA/pF)</T>
      <T x={557} y={321} s={7} r>Gmax/pF</T>
      {COLORS.map((c, i) => (
        <React.Fragment key={'cd' + i}>
          <T x={[356.5, 421.5, 486.5][i]} y={413} s={7} c={c}><Nav m={CD_GROUPS[i]} /></T>
          <T x={[621, 688.5, 755.5][i]} y={413} s={7} c={c}><Nav m={CD_GROUPS[i]} /></T>
        </React.Fragment>
      ))}

      {/* E */}
      <T x={217} y={721.5} s={12.5}>V (mV)</T>
      <T x={20} y={571} s={12.5} r>Normalized Currents</T>
      {COLORS.map((c, i) => (
        <React.Fragment key={'el' + i}>
          <Ln x1={230} x2={251} y={[633, 650.5, 667][i]} c={c} w={1.8} />
          <T x={257} y={[633, 650.5, 667][i]} s={11} c={c} a="l"><Nav m={CD_GROUPS[i]} /></T>
        </React.Fragment>
      ))}

      {/* F */}
      <T x={630} y={724} s={12.5}>V (mV)</T>
      <T x={432} y={573} s={12.5} r>Normalized Currents</T>
      {COLORS.map((c, i) => (
        <React.Fragment key={'fl' + i}>
          <Ln x1={478} x2={498} y={[640, 656.7, 673.3][i]} c={c} w={1.8} />
          <T x={505.5} y={[640, 656.7, 673.3][i]} s={11} c={c} a="l"><Nav m={CD_GROUPS[i]} /></T>
        </React.Fragment>
      ))}

      {/* G */}
      <T x={146} y={930} s={7.5}>Time (ms)</T>
      <T x={17} y={840} s={8.5} r>Normalized current</T>
      {COLORS.map((c, i) => (
        <React.Fragment key={'gl' + i}>
          <Dot x={175} y={[770, 783, 795][i]} r={3.5} c={c} />
          <T x={188} y={[770, 783, 795][i]} s={8} c={c} a="l"><Nav m={CD_GROUPS[i]} /></T>
        </React.Fragment>
      ))}

      {/* H */}
      <T x={419} y={929.5} s={7.5}>V (mV)</T>
      <T x={286} y={833} s={8.5} r>Time to peak (ms)</T>
      {COLORS.map((c, i) => (
        <React.Fragment key={'hl' + i}>
          <Ln x1={448} x2={468} y={[775, 786.7, 798.3][i]} c={c} w={1.3} />
          <Dot x={458} y={[775, 786.7, 798.3][i]} r={3.3} c={c} />
          <T x={471} y={[775, 786.7, 798.3][i]} s={7.5} c={c} a="l"><Nav m={CD_GROUPS[i]} /></T>
        </React.Fragment>
      ))}

      {/* I */}
      <T x={677.5} y={930.5} s={7.5}>V (mV)</T>
      <T x={546} y={833} s={8} r>τ (ms)</T>
      {COLORS.map((c, i) => (
        <React.Fragment key={'il' + i}>
          <Ln x1={578} x2={597} y={[878.3, 888.3, 899.3][i]} c={c} w={1.3} />
          <Dot x={587.5} y={[878.3, 888.3, 899.3][i]} r={3.3} c={c} />
          <T x={600} y={[878.3, 888.3, 899.3][i]} s={7.5} c={c} a="l"><Nav m={CD_GROUPS[i]} V /></T>
        </React.Fragment>
      ))}
    </div>
  );
}
